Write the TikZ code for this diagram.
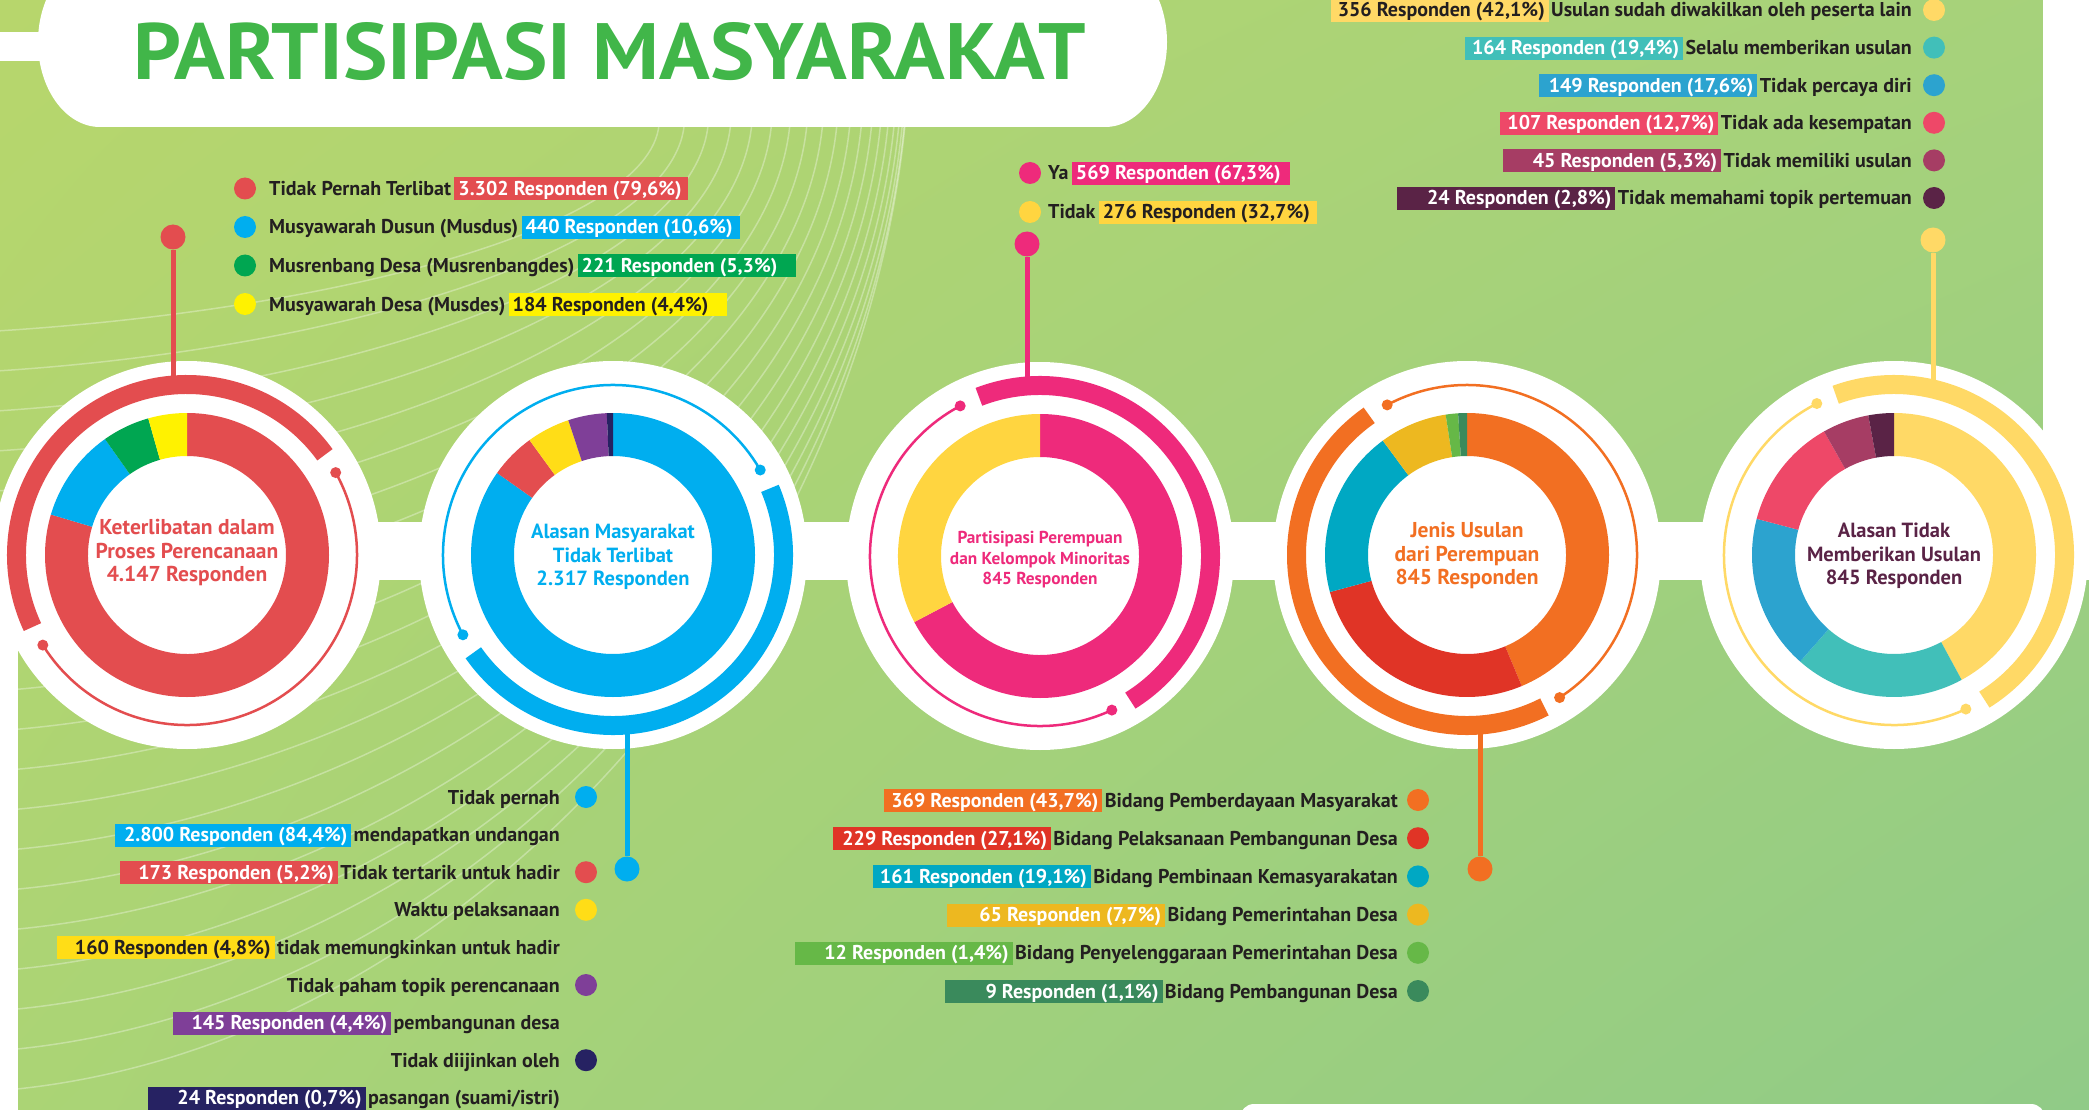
\documentclass[tikz,border=0pt]{standalone}
\usepackage{fontspec}
\setmainfont{PT Sans}
\usepackage{graphicx}
\usetikzlibrary{shadings}
\definecolor{bgUL}{HTML}{B7D66C}
\definecolor{bgUR}{HTML}{A6D27B}
\definecolor{bgLL}{HTML}{ABD475}
\definecolor{bgLR}{HTML}{90CB87}
\definecolor{ink}{HTML}{231F20}
\definecolor{ttl}{HTML}{41B649}
\definecolor{cRed}{HTML}{E34D4F}
\definecolor{cCyan}{HTML}{00AEEF}
\definecolor{cGreen}{HTML}{00A651}
\definecolor{cYellow}{HTML}{FFF200}
\definecolor{cYel2}{HTML}{FFDD17}
\definecolor{cPurple}{HTML}{7F3F98}
\definecolor{cNavy}{HTML}{262262}
\definecolor{cPink}{HTML}{EE2A7B}
\definecolor{cYel3}{HTML}{FFD540}
\definecolor{cOrange}{HTML}{F26F22}
\definecolor{cRed4}{HTML}{E03426}
\definecolor{cTeal4}{HTML}{00A8C3}
\definecolor{cGold4}{HTML}{EDB820}
\definecolor{cLG4}{HTML}{66B847}
\definecolor{cDG4}{HTML}{3A8A5C}
\definecolor{cYel5}{HTML}{FFD966}
\definecolor{cTeal5}{HTML}{41BFB9}
\definecolor{cBlue5}{HTML}{2CA3CF}
\definecolor{cPink5}{HTML}{EE4868}
\definecolor{cPlum5}{HTML}{A63D64}
\definecolor{cDark5}{HTML}{5A2346}
\tikzset{
  fanline/.style={white, opacity=0.32, line width=1.5},
  ltext/.style={font=\fontsize{20}{24}\selectfont\bfseries, text=ink, inner sep=0pt},
  boxbase/.style={font=\fontsize{20}{24}\selectfont\bfseries, inner xsep=4pt, inner ysep=1pt, text height=17pt, text depth=4pt},
  ldot/.style={circle, minimum size=22pt, inner sep=0pt},
  stemdot/.style={circle, minimum size=25pt, inner sep=0pt},
  stem/.style={line width=5},
  ctext/.style={font=\fontsize{20.5}{23.5}\selectfont\bfseries, align=center, inner sep=0pt},
}
% right-aligned legend row: [box inner width] name, x right, baseline, description, box colour, box text colour, box text
\newcommand\RRow[8][210]{%
  \node[ltext, anchor=base east] (#2d) at (#3,#4) {#5};
  \node[boxbase, fill=#6, text=#7, anchor=base east] (#2b) at ([xshift=-2pt]#2d.base west) {\makebox[#1pt][r]{#8}};}
% left-aligned legend row
\newcommand\LRow[8][210]{%
  \node[ltext, anchor=base west] (#2d) at (#3,#4) {#5};
  \node[boxbase, fill=#6, text=#7, anchor=base west] (#2b) at ([xshift=3pt]#2d.base east) {\makebox[#1pt][l]{#8}};}
% donut segment: centre, from percent, to percent, colour
\newcommand\DSeg[4]{%
  \fill[#4] ([shift={({-90+3.6*(#2)}:142)}]#1) arc[start angle={-90+3.6*(#2)}, end angle={-90+3.6*(#3)}, radius=142]
    -- ([shift={({-90+3.6*(#3)}:99)}]#1) arc[start angle={-90+3.6*(#3)}, end angle={-90+3.6*(#2)}, radius=99] -- cycle;}
% ring: centre, colour, thick from, thick to, thin from, thin to (math angles)
\newcommand\RingArcs[6]{%
  \draw[#2, line width=19] ([shift={({-(#3)}:170.5)}]#1) arc[start angle={-(#3)}, end angle={-(#4)}, radius=170.5];
  \draw[#2, line width=2.5] ([shift={({-(#5)}:170)}]#1) arc[start angle={-(#5)}, end angle={-(#6)}, radius=170];
  \fill[#2] ([shift={({-(#5)}:170)}]#1) circle[radius=5.5];
  \fill[#2] ([shift={({-(#6)}:170)}]#1) circle[radius=5.5];}
\begin{document}
\begin{tikzpicture}[x=1pt,y=-1pt]
\useasboundingbox (0,0) rectangle (2089,1110);
\shade[upper left=bgUL, upper right=bgUR, lower left=bgLL, lower right=bgLR] (0,0) rectangle (2089,1110);
% decorative fan of lines
\foreach \i in {0,...,19}{
  \pgfmathsetmacro{\sy}{332+40*\i}
  \pgfmathsetmacro{\ex}{905-246*(1-\i/19)^2}
  \pgfmathsetmacro{\dy}{\sy-125}
  \draw[fanline] (-20,\sy) .. controls ({0.5*\ex},{\sy-0.03*\ex}) and ({\ex-0.05*\dy},{125+0.5*\dy}) .. (\ex,125);
}
% title pill and white bars
\fill[white] (100,-43) -- (1105,-43) arc[start angle=-90, end angle=90, x radius=62, y radius=85]
  -- (100,127) arc[start angle=90, end angle=270, x radius=62, y radius=85] -- cycle;
\fill[white] (0,32) rectangle (45,61);
\fill[white] (2043,0) rectangle (2089,522);
\fill[white] (0,580) rectangle (18,1110);
\fill[white, rounded corners=14] (1240,1104) rectangle (2045,1150);
\node[anchor=base west, inner sep=0pt, text=ttl] (title) at (133,80) {\resizebox{953pt}{57pt}{\bfseries PARTISIPASI MASYARAKAT}};
% circle centres
\coordinate (c1) at (187,555);
\coordinate (c2) at (613,555);
\coordinate (c3) at (1040,556);
\coordinate (c4) at (1467,555);
\coordinate (c5) at (1894,555);
\foreach \c in {c1,c2,c3,c4,c5}{\fill[white] (\c) circle[radius=194];}
\fill[white] (0,522) rectangle (2089,580);
% stems
\node[stemdot, fill=cRed] (k1) at (173,237) {};
\coordinate (e1) at (173,390);
\draw[stem, cRed] (k1) -- (e1);
\node[stemdot, fill=cCyan] (k2) at (627,869) {};
\coordinate (e2) at (627,720);
\draw[stem, cCyan] (k2) -- (e2);
\node[stemdot, fill=cPink] (k3) at (1027,244) {};
\coordinate (e3) at (1027,390);
\draw[stem, cPink] (k3) -- (e3);
\node[stemdot, fill=cOrange] (k4) at (1480,869) {};
\coordinate (e4) at (1480,720);
\draw[stem, cOrange] (k4) -- (e4);
\node[stemdot, fill=cYel5] (k5) at (1933,240) {};
\coordinate (e5) at (1933,390);
\draw[stem, cYel5] (k5) -- (e5);
% rings
\RingArcs{c1}{cRed}{36}{205}{212}{389}
\RingArcs{c2}{cCyan}{215}{383}{30}{208}
\RingArcs{c3}{cPink}{-58}{111}{118}{295}
\RingArcs{c4}{cOrange}{125}{297}{303}{478}
\RingArcs{c5}{cYel5}{-58}{110}{117}{295}
% donuts
\DSeg{c1}{0}{79.6}{cRed}
\DSeg{c1}{79.6}{90.2}{cCyan}
\DSeg{c1}{90.2}{95.6}{cGreen}
\DSeg{c1}{95.6}{100}{cYellow}
\DSeg{c2}{0}{84.8}{cCyan}
\DSeg{c2}{84.8}{90.0}{cRed}
\DSeg{c2}{90.0}{94.9}{cYel2}
\DSeg{c2}{94.9}{99.3}{cPurple}
\DSeg{c2}{99.3}{100}{cNavy}
\DSeg{c3}{0}{67.3}{cPink}
\DSeg{c3}{67.3}{100}{cYel3}
\DSeg{c4}{0}{43.7}{cOrange}
\DSeg{c4}{43.7}{70.8}{cRed4}
\DSeg{c4}{70.8}{89.9}{cTeal4}
\DSeg{c4}{89.9}{97.6}{cGold4}
\DSeg{c4}{97.6}{99.0}{cLG4}
\DSeg{c4}{99.0}{100}{cDG4}
\DSeg{c5}{0}{42.1}{cYel5}
\DSeg{c5}{42.1}{61.5}{cTeal5}
\DSeg{c5}{61.5}{79.1}{cBlue5}
\DSeg{c5}{79.1}{91.8}{cPink5}
\DSeg{c5}{91.8}{97.1}{cPlum5}
\DSeg{c5}{97.1}{100}{cDark5}
% centre texts
\node[ctext, text=cRed, font=\fontsize{21.5}{23.5}\selectfont\bfseries] (t1) at (187,553) {Keterlibatan dalam\\Proses Perencanaan\\4.147 Responden};
\node[ctext, text=cCyan] (t2) at (613,557) {Alasan Masyarakat\\Tidak Terlibat\\2.317 Responden};
\node[ctext, text=cPink, font=\fontsize{17.3}{20.5}\selectfont\bfseries] (t3) at (1040,560) {Partisipasi Perempuan\\dan Kelompok Minoritas\\845 Responden};
\node[ctext, text=cOrange, font=\fontsize{21.5}{23.5}\selectfont\bfseries] (t4) at (1467,556) {Jenis Usulan\\dari Perempuan\\845 Responden};
\node[ctext, text=cDark5] (t5) at (1894,556) {Alasan Tidak\\Memberikan Usulan\\845 Responden};
% legend 1
\node[ldot, fill=cRed] (p1) at (245,188.5) {};
\node[ldot, fill=cCyan] (p2) at (245,227) {};
\node[ldot, fill=cGreen] (p3) at (245,265.5) {};
\node[ldot, fill=cYellow] (p4) at (245,304) {};
\LRow[226]{la}{269}{195.5}{Tidak Pernah Terlibat}{cRed}{white}{3.302 Responden (79,6\%)}
\LRow{lb}{269}{234}{Musyawarah Dusun (Musdus)}{cCyan}{white}{440 Responden (10,6\%)}
\LRow{lc}{269}{272.5}{Musrenbang Desa (Musrenbangdes)}{cGreen}{white}{221 Responden (5,3\%)}
\LRow{ld}{269}{311}{Musyawarah Desa (Musdes)}{cYellow}{ink}{184 Responden (4,4\%)}
% legend 3
\node[ldot, fill=cPink] (q1) at (1030,173) {};
\node[ldot, fill=cYel3] (q2) at (1030,212) {};
\LRow{ma}{1048}{180}{Ya}{cPink}{white}{569 Responden (67,3\%)}
\LRow{mb}{1048}{219}{Tidak}{cYel3}{ink}{276 Responden (32,7\%)}
% legend 5
\node[ldot, fill=cYel5] (r1) at (1934,10) {};
\node[ldot, fill=cTeal5] (r2) at (1934,47.6) {};
\node[ldot, fill=cBlue5] (r3) at (1934,85.2) {};
\node[ldot, fill=cPink5] (r4) at (1934,122.8) {};
\node[ldot, fill=cPlum5] (r5) at (1934,160.4) {};
\node[ldot, fill=cDark5] (r6) at (1934,198) {};
\RRow{na}{1912}{17}{Usulan sudah diwakilkan oleh peserta lain}{cYel5}{ink}{356 Responden (42,1\%)}
\RRow{nb}{1912}{54.6}{Selalu memberikan usulan}{cTeal5}{white}{164 Responden (19,4\%)}
\RRow{nc}{1912}{92.2}{Tidak percaya diri}{cBlue5}{white}{149 Responden (17,6\%)}
\RRow{nd}{1912}{129.8}{Tidak ada kesempatan}{cPink5}{white}{107 Responden (12,7\%)}
\RRow{ne}{1912}{167.4}{Tidak memiliki usulan}{cPlum5}{white}{45 Responden (5,3\%)}
\RRow{nf}{1912}{205}{Tidak memahami topik pertemuan}{cDark5}{white}{24 Responden (2,8\%)}
% legend 2
\node[ldot, fill=cCyan] (s1) at (586,797) {};
\node[ldot, fill=cRed] (s3) at (586,872.2) {};
\node[ldot, fill=cYel2] (s4) at (586,909.8) {};
\node[ldot, fill=cPurple] (s6) at (586,985) {};
\node[ldot, fill=cNavy] (s8) at (586,1060.2) {};
\node[ltext, anchor=base east] (oa) at (560,804) {Tidak pernah};
\RRow[228]{ob}{560}{841.6}{mendapatkan undangan}{cCyan}{white}{2.800 Responden (84,4\%)}
\RRow{oc}{560}{879.2}{Tidak tertarik untuk hadir}{cRed}{white}{173 Responden (5,2\%)}
\node[ltext, anchor=base east] (od) at (560,916.8) {Waktu pelaksanaan};
\RRow{oe}{560}{954.4}{tidak memungkinkan untuk hadir}{cYel2}{ink}{160 Responden (4,8\%)}
\node[ltext, anchor=base east] (of) at (560,992) {Tidak paham topik perencanaan};
\RRow{og}{560}{1029.6}{pembangunan desa}{cPurple}{white}{145 Responden (4,4\%)}
\node[ltext, anchor=base east] (oh) at (560,1067.2) {Tidak diijinkan oleh};
\RRow{oi}{560}{1104.8}{pasangan (suami/istri)}{cNavy}{white}{24 Responden (0,7\%)}
% legend 4
\node[ldot, fill=cOrange] (u1) at (1418,800) {};
\node[ldot, fill=cRed4] (u2) at (1418,838.2) {};
\node[ldot, fill=cTeal4] (u3) at (1418,876.4) {};
\node[ldot, fill=cGold4] (u4) at (1418,914.6) {};
\node[ldot, fill=cLG4] (u5) at (1418,952.8) {};
\node[ldot, fill=cDG4] (u6) at (1418,991) {};
\RRow{va}{1398}{807}{Bidang Pemberdayaan Masyarakat}{cOrange}{white}{369 Responden (43,7\%)}
\RRow{vb}{1398}{845.2}{Bidang Pelaksanaan Pembangunan Desa}{cRed4}{white}{229 Responden (27,1\%)}
\RRow{vc}{1398}{883.4}{Bidang Pembinaan Kemasyarakatan}{cTeal4}{white}{161 Responden (19,1\%)}
\RRow{vd}{1398}{921.6}{Bidang Pemerintahan Desa}{cGold4}{white}{65 Responden (7,7\%)}
\RRow{ve}{1398}{959.8}{Bidang Penyelenggaraan Pemerintahan Desa}{cLG4}{white}{12 Responden (1,4\%)}
\RRow{vf}{1398}{998}{Bidang Pembangunan Desa}{cDG4}{white}{9 Responden (1,1\%)}
\end{tikzpicture}
\end{document}
